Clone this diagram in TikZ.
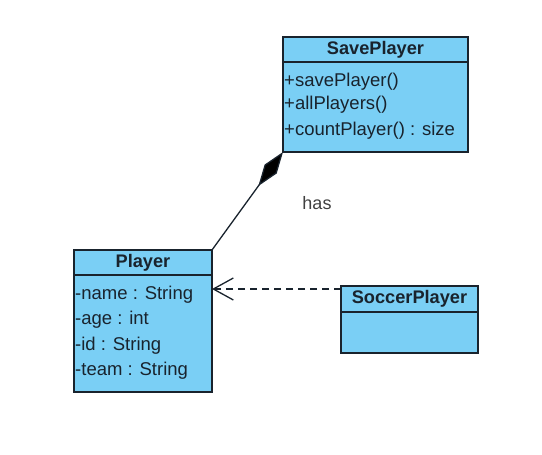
\documentclass[tikz,border=0pt]{standalone}
\usepackage{fontspec}
\setmainfont{Liberation Sans}
\usetikzlibrary{arrows.meta}
\definecolor{umlfill}{RGB}{122,207,245}
\definecolor{umltext}{RGB}{25,35,45}
\begin{document}
\begin{tikzpicture}[x=1pt,y=-1pt,
  box/.style={draw=umltext,fill=umlfill,line width=1.4pt,anchor=north west,inner sep=0pt,outer sep=0pt},
  hdr/.style={box,font=\fontsize{18.2}{20}\selectfont\bfseries,text=umltext},
  row/.style={anchor=base west,inner sep=0pt,font=\fontsize{18.5}{20}\selectfont,text=umltext}]
\useasboundingbox (0,0) rectangle (542,455);
% SavePlayer
\node[box,minimum width=185pt,minimum height=90pt] (spB) at (283,62) {};
\node[hdr,minimum width=185pt,minimum height=25pt] (spH) at (283,37) {SavePlayer};
\node[row] (sp1) at (284,86) {+savePlayer()};
\node[row] (sp2) at (284,110) {+allPlayers()};
\node[row] (sp3) at (284,135) {+countPlayer() : size};
% Player
\node[box,minimum width=138pt,minimum height=117pt] (plB) at (74,275) {};
\node[hdr,minimum width=138pt,minimum height=25pt] (plH) at (74,250) {Player};
\node[row] (pl1) at (75,299) {-name : String};
\node[row] (pl2) at (75,324) {-age : int};
\node[row] (pl3) at (75,350) {-id : String};
\node[row] (pl4) at (75,375) {-team : String};
% SoccerPlayer
\node[box,minimum width=137pt,minimum height=41pt] (soB) at (341,312) {};
\node[hdr,minimum width=137pt,minimum height=26pt] (soH) at (341,286) {SoccerPlayer};
% composition
\draw[line width=1.3pt,umltext,-{Diamond[length=42pt,width=15pt,fill=black]}] (plH.north east) -- (spB.south west);
\node[font=\fontsize{18}{20}\selectfont,text=black!75] (has) at (317,203) {has};
% dependency
\draw[line width=1.3pt,umltext,dash pattern=on 7pt off 5pt,-{Straight Barb[length=20pt,width=22pt,line width=1.3pt]}]
  ([yshift=10pt]soH.west) -- ([yshift=10pt]soH.west -| plB.east);
\end{tikzpicture}
\end{document}
